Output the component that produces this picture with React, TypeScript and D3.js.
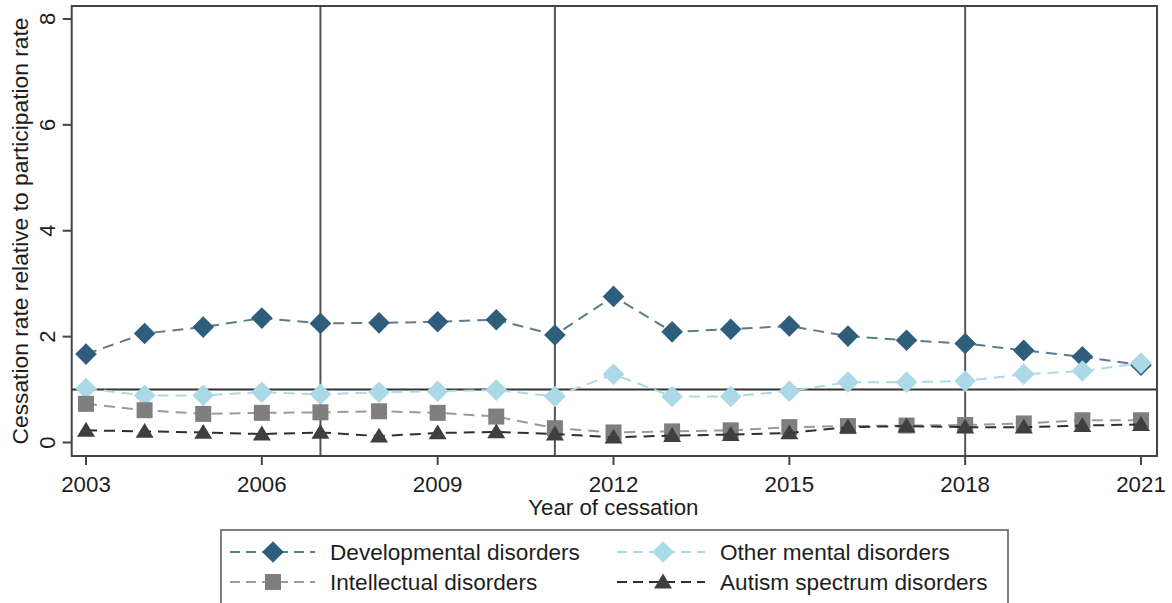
import React from "react";
import * as d3 from "d3";

const years = [2003, 2004, 2005, 2006, 2007, 2008, 2009, 2010, 2011, 2012, 2013, 2014, 2015, 2016, 2017, 2018, 2019, 2020, 2021];
const developmental = [1.67, 2.06, 2.18, 2.35, 2.25, 2.26, 2.28, 2.32, 2.03, 2.76, 2.09, 2.14, 2.2, 2.01, 1.93, 1.87, 1.74, 1.62, 1.46];
const otherMental = [1.02, 0.89, 0.89, 0.95, 0.91, 0.95, 0.97, 0.99, 0.87, 1.29, 0.87, 0.87, 0.97, 1.14, 1.14, 1.16, 1.29, 1.35, 1.5];
const intellectual = [0.73, 0.61, 0.54, 0.56, 0.57, 0.59, 0.56, 0.49, 0.27, 0.19, 0.21, 0.23, 0.29, 0.31, 0.32, 0.33, 0.36, 0.42, 0.42];
const autism = [0.23, 0.21, 0.19, 0.16, 0.19, 0.12, 0.18, 0.2, 0.16, 0.1, 0.13, 0.15, 0.18, 0.29, 0.31, 0.29, 0.29, 0.32, 0.34];
const xTicks = [2003, 2006, 2009, 2012, 2015, 2018, 2021];
const yTicks = [0, 2, 4, 6, 8];
const vLines = [2007, 2011, 2018];
const refLine = 1;

type Sym = "diamond" | "square" | "triangle";
const series: { name: string; values: number[]; marker: string; line: string; sym: Sym }[] = [
  { name: "Developmental disorders", values: developmental, marker: "#2f5d7c", line: "#5e7b8e", sym: "diamond" },
  { name: "Other mental disorders", values: otherMental, marker: "#acd9e8", line: "#acd9e8", sym: "diamond" },
  { name: "Intellectual disorders", values: intellectual, marker: "#7f7f7f", line: "#9a9a9a", sym: "square" },
  { name: "Autism spectrum disorders", values: autism, marker: "#3f3f3f", line: "#2f2f2f", sym: "triangle" },
];

const W = 1172;
const H = 603;
const left = 71.7, right = 1157, top = 6, bottom = 456;
const font = "'Liberation Sans', Arial, sans-serif";

const x = d3.scaleLinear().domain([2002.756, 2021.273]).range([left, right]);
const y = d3.scaleLinear().domain([-0.255, 8.245]).range([bottom, top]);

function Marker({ cx, cy, sym, fill }: { cx: number; cy: number; sym: Sym; fill: string }) {
  if (sym === "diamond") {
    const r = 10.8;
    return <path d={`M${cx},${cy - r}L${cx + r},${cy}L${cx},${cy + r}L${cx - r},${cy}Z`} fill={fill} />;
  }
  if (sym === "square") {
    const s = 8;
    return <rect x={cx - s} y={cy - s} width={2 * s} height={2 * s} fill={fill} />;
  }
  const h = 8.5;
  return <path d={`M${cx},${cy - h}L${cx + 9},${cy + h * 0.75}L${cx - 9},${cy + h * 0.75}Z`} fill={fill} />;
}

export default function App() {
  const line = d3
    .line<number>()
    .x((_, i) => x(years[i]))
    .y((d) => y(d));
  const dash = "11,7";
  const legendPos = [
    { lx1: 230, lx2: 315, mx: 273, tx: 330, ty: 552 },
    { lx1: 617, lx2: 705, mx: 663, tx: 720, ty: 552 },
    { lx1: 230, lx2: 315, mx: 273, tx: 330, ty: 582 },
    { lx1: 617, lx2: 705, mx: 663, tx: 720, ty: 582 },
  ];
  const legendOrder = [0, 1, 2, 3];
  return (
    <svg width={W} height={H} style={{ position: "absolute", left: 0, top: 0, background: "#fff" }} fontFamily={font}>
      <rect x={0} y={0} width={W} height={H} fill="#fff" />
      {vLines.map((v) => (
        <line key={v} x1={x(v)} x2={x(v)} y1={top} y2={bottom} stroke="#555" strokeWidth={2} />
      ))}
      <line x1={left} x2={right} y1={y(refLine)} y2={y(refLine)} stroke="#333" strokeWidth={2} />
      {series.map((s) => (
        <g key={s.name}>
          <path d={line(s.values) || ""} fill="none" stroke={s.line} strokeWidth={2} strokeDasharray={dash} />
          {s.values.map((v, i) => (
            <Marker key={i} cx={x(years[i])} cy={y(v)} sym={s.sym} fill={s.marker} />
          ))}
        </g>
      ))}
      <rect x={left} y={top} width={right - left} height={bottom - top} fill="none" stroke="#444" strokeWidth={2} />
      {yTicks.map((t) => (
        <g key={t}>
          <line x1={left - 9} x2={left} y1={y(t)} y2={y(t)} stroke="#444" strokeWidth={2} />
          <text
            transform={`translate(${left - 17},${y(t)}) rotate(-90)`}
            textAnchor="middle"
            fontSize={22}
            fill="#1e1e1e"
          >
            {t}
          </text>
        </g>
      ))}
      <text transform={`translate(28,${(top + bottom) / 2}) rotate(-90)`} textAnchor="middle" fontSize={22.8} fill="#1e1e1e">
        Cessation rate relative to participation rate
      </text>
      {xTicks.map((t) => (
        <g key={t}>
          <line x1={x(t)} x2={x(t)} y1={bottom} y2={bottom + 9} stroke="#444" strokeWidth={2} />
          <text x={x(t)} y={bottom + 36} textAnchor="middle" fontSize={22.3} fill="#1e1e1e">
            {t}
          </text>
        </g>
      ))}
      <text x={(left + right) / 2 - 1} y={515} textAnchor="middle" fontSize={22.3} fill="#1e1e1e">
        Year of cessation
      </text>
      <rect x={221} y={530} width={787} height={90} fill="#fff" stroke="#555" strokeWidth={1.5} />
      {legendOrder.map((si, k) => {
        const s = series[si];
        const p = legendPos[k];
        return (
          <g key={s.name}>
            <line x1={p.lx1} x2={p.lx2} y1={p.ty} y2={p.ty} stroke={s.line} strokeWidth={2} strokeDasharray="10,6" />
            <Marker cx={p.mx} cy={p.ty} sym={s.sym} fill={s.marker} />
            <text x={p.tx} y={p.ty + 8} fontSize={22.6} fill="#1e1e1e">
              {s.name}
            </text>
          </g>
        );
      })}
    </svg>
  );
}
